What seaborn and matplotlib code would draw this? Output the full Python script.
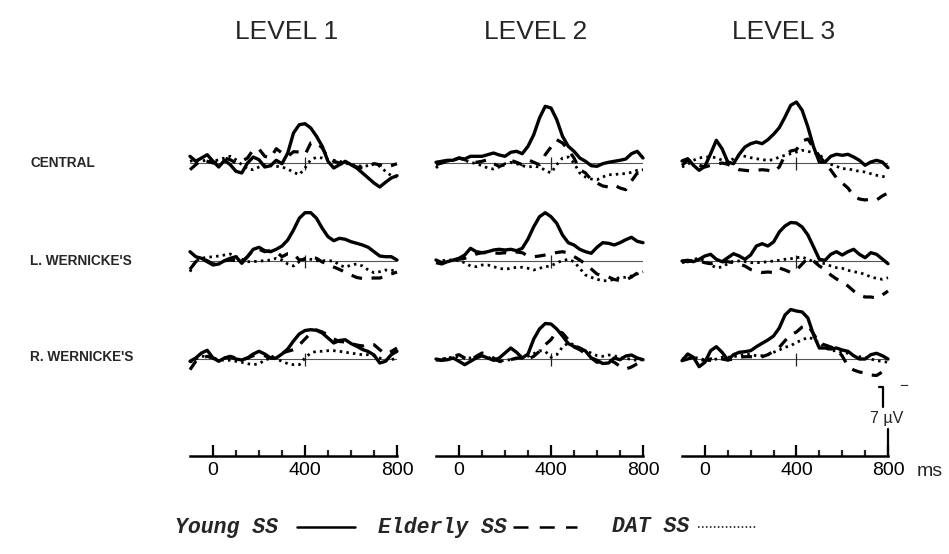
import matplotlib
matplotlib.use("Agg")
import matplotlib.pyplot as plt
import seaborn as sns
import pandas as pd
from matplotlib.lines import Line2D

# ---------------- data ----------------
time_ms = list(range(-100, 801, 25))
levels = ["LEVEL 1", "LEVEL 2", "LEVEL 3"]
sites = ["CENTRAL", "L. WERNICKE'S", "R. WERNICKE'S"]
groups = ["Young SS", "Elderly SS", "DAT SS"]
tick_values = [0, 400, 800]
tick_labels = ["0", "400", "800"]
calibration_uv = 7

# amplitude values (µV, as drawn: deflection upward is positive here)
young_central_1 = [0.67, 0.17, 0.5, 0.83, 0.17, -0.4, 0.27, -0.17, -0.83, -1.0, 0, 0.6, 0.33, -0.4, -0.27, 0.27, -0.07, 1.0, 3.0, 3.83, 3.93, 3.5, 2.67, 1.67, 0.17, -0.5, -0.17, 0.17, -0.17, -0.5, -1.0, -1.5, -2.0, -2.4, -1.93, -1.5, -1.27]
elderly_central_1 = [-0.67, -0.17, 0.33, 0.17, 0, 0.17, 0.5, 0.33, 0, 0.17, 0.5, 1.33, 1.4, 0.67, 0.5, 1.43, 1.0, 0.67, 1.13, 1.1, 0.83, 2.0, 2.07, 1.5, 0.5, 0.17, 0, -0.17, -0.17, -0.4, -0.5, -0.33, -0.07, -0.17, -0.4, -0.27, -0.07]
dat_central_1 = [0.17, 0.33, 0.17, 0.33, 0.17, 0.33, 0.5, 0.67, 0.33, -0.17, -0.6, -0.67, -0.4, -0.17, -0.27, -0.33, -0.4, -0.6, -0.93, -1.17, -0.5, 0.33, 0.57, 0.5, 0.33, 0.27, 0.17, 0, -0.17, -0.27, -0.33, -0.27, -0.07, -0.33, -0.83, -1.27, -1.4]

young_central_2 = [0.07, 0.17, 0.27, 0.27, 0.5, 0.4, 0.67, 0.67, 0.67, 0.83, 1.0, 0.8, 0.67, 1.07, 1.17, 0.93, 1.67, 2.83, 4.5, 5.67, 5.5, 4.33, 2.67, 1.67, 1.17, 0.5, 0.17, -0.27, -0.33, -0.07, 0.07, 0.17, 0.27, 0.4, 0.93, 1.17, 0.5]
elderly_central_2 = [-0.17, 0, 0.17, 0.27, 0.5, 0.33, 0.17, 0.07, 0.17, 0.33, -0.07, -0.33, -0.17, 0.27, 0.07, -0.17, 0.33, 0.07, -0.17, 0.83, 1.6, 2.33, 2.0, 1.33, 0.5, -0.67, -1.0, -1.67, -2.0, -2.3, -2.4, -2.2, -2.5, -2.67, -1.8, -1.0, -1.0]
dat_central_2 = [-0.5, 0.07, 0.17, 0.33, 0.5, 0.27, 0.07, -0.07, -0.27, -0.5, -0.6, -0.4, -0.07, 0.07, -0.07, -0.27, -0.4, -0.33, -0.4, -0.73, -1.0, -0.17, 0.5, 0.6, 0, -1.0, -1.4, -1.6, -1.67, -1.4, -1.17, -1.17, -1.07, -1.07, -0.93, -0.73, -0.67]

young_central_3 = [0.2, 0.43, -0.23, -0.73, -0.33, 0.93, 2.27, 1.43, 0.1, -0.07, 0.87, 1.6, 1.93, 2.1, 1.93, 2.33, 2.87, 3.53, 4.6, 5.77, 6.1, 5.27, 3.6, 1.6, 0.1, 0.1, 0.67, 0.87, 0.77, 0.87, 0.6, 0.27, -0.23, 0.1, 0.27, 0.1, -0.47]
elderly_central_3 = [-0.23, 0.27, 0.1, -0.23, -0.4, -0.23, -0.13, 0, -0.13, -0.4, -0.67, -0.73, -0.8, -0.73, -0.67, -0.73, -0.9, -0.4, 0.77, 1.2, 1.33, 2.2, 2.4, 1.5, 0.7, 0, -0.7, -1.5, -2.0, -2.5, -3.3, -3.6, -3.7, -3.6, -3.7, -3.3, -3.0]
dat_central_3 = [-0.4, -0.13, 0.27, 0.5, 0.6, 0.6, 0.53, 0.27, 0.1, 0.43, 0.77, 0.67, 0.53, 0.43, 0.33, 0.27, 0.33, 0.6, 0.77, 0.93, 1.1, 1.27, 1.17, 1.0, 0.87, 0.27, -0.13, -0.33, -0.57, -0.57, -0.73, -0.83, -0.9, -1.07, -1.23, -1.33, -1.47]

young_lwern_1 = [0.93, 0.43, 0.27, -0.07, -0.4, -0.3, 0.03, 0.27, 0.43, -0.23, 0.43, 1.17, 1.37, 1.03, 0.93, 1.17, 1.5, 2.1, 3.1, 4.27, 4.83, 4.83, 4.27, 3.27, 2.43, 2.03, 2.27, 2.17, 1.93, 1.77, 1.6, 1.37, 0.93, 0.5, 0.43, 0.43, 0.1]
elderly_lwern_1 = [-0.83, -0.07, 0.27, 0.03, -0.3, -0.23, 0.03, 0.1, 0.03, -0.07, 0.43, 1.1, 1.17, 0.93, 1.03, 0.93, 0.43, 0.73, 0.73, 0.1, 0.17, 0.37, 0.27, -0.1, -0.3, -0.6, -0.85, -1.1, -1.4, -1.65, -1.75, -1.75, -1.7, -1.7, -1.55, -1.3, -1.1]
dat_lwern_1 = [-1.07, 0.03, 0.27, 0.37, 0.43, 0.5, 0.6, 0.7, 0.43, 0.17, -0.07, -0.07, 0, 0.03, 0.1, 0.27, 0.1, -0.3, -0.5, -0.07, 0.27, 0.17, 0.03, 0.03, 0.03, 0, -0.4, -0.63, -0.4, -0.3, -0.5, -0.9, -1.17, -1.07, -0.9, -0.97, -0.83]

young_lwern_2 = [0.1, -0.17, -0.07, 0.1, 0.27, 0.6, 1.27, 0.93, 0.83, 0.93, 1.1, 1.17, 1.1, 1.17, 1.03, 1.27, 2.2, 3.43, 4.43, 4.83, 4.43, 3.77, 2.6, 1.83, 1.6, 1.17, 0.93, 0.77, 1.37, 1.83, 1.77, 1.6, 1.83, 2.13, 2.37, 1.97, 1.83]
elderly_lwern_2 = [-0.17, -0.3, -0.07, 0.1, 0.17, 0.27, 0.5, 0.7, 0.83, 0.83, 0.8, 0.77, 0.83, 0.7, 0.9, 0.83, 0.5, 0.43, 0.5, 0.6, 0.7, 0.85, 0.93, 0.8, 0.45, 0.1, -0.3, -0.8, -1.3, -1.5, -1.6, -1.85, -1.95, -1.9, -1.6, -1.2, -0.9]
dat_lwern_2 = [-0.07, 0.03, 0.1, 0.1, 0.03, -0.17, -0.5, -0.57, -0.4, -0.4, -0.57, -0.73, -0.83, -0.73, -0.63, -0.63, -0.73, -0.9, -0.73, -0.57, -0.5, -0.17, 0.03, 0.17, -0.07, -0.73, -1.4, -1.63, -1.83, -1.97, -1.97, -1.83, -1.63, -1.63, -1.5, -1.3, -1.07]

young_lwern_3 = [0, 0.07, -0.07, 0.17, 0.5, 0.67, 0.17, -0.07, 0.33, 0.73, 0.5, 0.17, 0.6, 1.5, 1.73, 1.5, 1.9, 2.9, 3.5, 3.85, 3.8, 3.4, 2.6, 1.4, 0.17, 0.07, 0.67, 0.93, 0.6, 0.93, 1.17, 0.67, 0.33, 0.83, 0.67, 0.2, -0.27]
elderly_lwern_3 = [0, -0.07, 0.07, 0, -0.17, -0.27, -0.17, -0.07, -0.07, -0.17, -0.3, -0.5, -0.85, -1.0, -1.15, -1.1, -1.15, -0.7, -0.9, -1.15, -0.9, -0.3, 0.3, 0, -0.5, -0.85, -1.4, -1.8, -2.1, -2.5, -3.0, -3.4, -3.6, -3.6, -3.7, -3.4, -3.0]
dat_lwern_3 = [-0.17, -0.07, 0.17, 0.27, 0, -0.4, -0.67, -0.6, -0.27, 0, 0, -0.07, -0.17, -0.17, -0.13, -0.07, 0, 0.07, 0.17, 0.23, 0.33, 0.4, 0.17, -0.07, -0.17, -0.27, -0.5, -0.67, -0.73, -0.93, -1.07, -1.17, -1.33, -1.6, -1.73, -1.83, -1.67]

young_rwern_1 = [-0.23, 0.1, 0.6, 0.87, 0.1, -0.23, 0.1, 0.2, 0, -0.1, 0.1, 0.5, 0.77, 0.5, 0.1, 0.1, 0.5, 1.0, 1.8, 2.5, 2.85, 2.93, 2.87, 2.6, 2.1, 1.6, 1.85, 1.93, 1.55, 1.27, 0.95, 0.75, 0.4, -0.4, -0.23, 0.43, 0.77]
elderly_rwern_1 = [-1.07, -0.23, 0.1, 0.27, 0.1, -0.07, 0.1, 0.27, 0.1, -0.07, 0.1, 0.33, 0.43, 0.33, 0.1, 0.43, 0.6, 0.77, 0.93, 1.4, 2.0, 2.6, 2.9, 2.7, 2.4, 2.0, 1.75, 1.7, 1.55, 1.4, 1.3, 1.5, 1.43, 0.93, 0.5, 0.75, 1.1]
dat_rwern_1 = [-0.33, 0, 0.27, 0.27, 0.1, -0.07, -0.13, -0.13, -0.23, -0.33, -0.47, -0.57, -0.47, -0.13, 0.1, 0, -0.23, -0.47, -0.57, -0.57, 0.1, 0.6, 0.77, 0.77, 0.83, 0.83, 0.77, 0.67, 0.6, 0.5, 0.43, 0.43, 0.33, 0.1, -0.13, -0.07, 0.1]

young_rwern_2 = [0, -0.13, -0.07, 0.1, -0.23, -0.57, -0.23, 0.1, 0.33, 0.1, -0.13, 0.1, 0.6, 1.1, 0.67, 0.1, 0.5, 2.0, 3.0, 3.55, 3.5, 3.0, 2.3, 1.55, 1.25, 1.1, 0.8, 0.1, -0.13, -0.45, -0.4, 0.1, -0.07, 0.3, 0.4, 0.1, -0.07]
elderly_rwern_2 = [-0.07, -0.13, 0.1, 0.27, 0.43, 0.1, -0.13, 0.27, 0.6, 0.43, 0.1, -0.23, -0.33, -0.07, 0.1, 0.1, 0, 0.27, 0.77, 1.43, 1.93, 2.77, 2.6, 1.93, 1.2, 0.93, 0.53, 0.1, -0.33, -0.23, -0.07, -0.33, -0.73, -1.0, -0.8, -0.47, -0.13]
dat_rwern_2 = [-0.13, 0, 0.1, 0.2, 0.27, 0.1, 0.1, 0.2, 0.27, 0.2, -0.07, -0.23, -0.13, -0.07, 0.03, 0.1, 0.27, 0.53, 0.83, 0.77, 0.17, 0.43, 1.2, 1.6, 1.43, 1.1, 0.77, 0.6, 0.33, 0.27, 0.4, 0.33, 0.1, 0.1, -0.07, -0.13, -0.07]

young_rwern_3 = [-0.17, 0.5, 0.17, -0.77, -0.33, 0.83, 1.23, 0.67, -0.1, 0.43, 0.67, 0.73, 0.83, 1.23, 1.57, 1.9, 2.3, 3.1, 4.4, 4.95, 4.8, 4.7, 4.1, 2.4, 1.1, 1.1, 1.0, 1.1, 0.9, 0.77, 0.33, 0, 0, 0.43, 0.57, 0.33, 0]
elderly_rwern_3 = [-0.17, 0, 0.17, 0, -0.17, 0, 0.17, 0, -0.1, 0, 0.17, 0.23, 0.23, 0.17, 0.23, 0.43, 0.77, 1.17, 1.83, 2.4, 2.7, 3.2, 3.4, 2.5, 1.6, 1.4, 1.2, 1.0, 0.3, -0.7, -1.1, -1.3, -1.4, -1.6, -1.65, -1.3, -1.0]
dat_rwern_3 = [0, 0.07, 0.17, 0.07, -0.1, -0.17, 0, 0.17, 0.17, 0.23, 0.33, 0.5, 0.43, 0.33, 0.33, 0.43, 0.67, 0.9, 1.17, 1.33, 1.67, 1.9, 2.17, 2.0, 1.57, 1.17, 0.83, 0.83, 0.67, 0.57, 0.33, 0.23, 0.17, 0, -0.17, -0.23, -0.33]

panel_series = {
    (0, 0): (young_central_1, elderly_central_1, dat_central_1),
    (0, 1): (young_central_2, elderly_central_2, dat_central_2),
    (0, 2): (young_central_3, elderly_central_3, dat_central_3),
    (1, 0): (young_lwern_1, elderly_lwern_1, dat_lwern_1),
    (1, 1): (young_lwern_2, elderly_lwern_2, dat_lwern_2),
    (1, 2): (young_lwern_3, elderly_lwern_3, dat_lwern_3),
    (2, 0): (young_rwern_1, elderly_rwern_1, dat_rwern_1),
    (2, 1): (young_rwern_2, elderly_rwern_2, dat_rwern_2),
    (2, 2): (young_rwern_3, elderly_rwern_3, dat_rwern_3),
}

# ---------------- style / layout ----------------
sns.set_style("white")
plt.rcParams["font.family"] = ["Liberation Sans", "DejaVu Sans"]

W, H = 949, 554
fig = plt.figure(figsize=(W / 100, H / 100), dpi=100)

col_px = [(190, 397), (436, 643), (682, 888)]
row_base_px = [163, 261, 359]
PX_PER_UV = 10.0
YLO, YHI = -5.0, 7.0

line_styles = {
    "Young SS": dict(linestyle="-", linewidth=2.4),
    "Elderly SS": dict(linestyle=(0, (3.4, 3.0)), linewidth=2.3),
    "DAT SS": dict(linestyle=(0, (0.9, 1.5)), linewidth=2.0),
}

for r, site in enumerate(sites):
    for c in range(3):
        x0, x1 = col_px[c]
        bottom_px = row_base_px[r] - YLO * PX_PER_UV
        top_px = row_base_px[r] - YHI * PX_PER_UV
        ax = fig.add_axes([x0 / W, 1 - bottom_px / H, (x1 - x0) / W, (bottom_px - top_px) / H])
        ax.set_xlim(-100, 800)
        ax.set_ylim(YLO, YHI)
        ax.axis("off")
        ax.axhline(0, color="#555555", lw=0.8, zorder=1)
        ax.vlines(400, -0.65, 0.65, color="#222222", lw=0.9, zorder=1)
        for g, vals in zip(groups, panel_series[(r, c)]):
            df = pd.DataFrame({"time": time_ms, "uV": vals})
            sns.lineplot(data=df, x="time", y="uV", ax=ax, color="black",
                         errorbar=None, clip_on=False, **line_styles[g])
        ax.axis("off")

# column titles
title_x = [287, 536, 784]
for c, lab in enumerate(levels):
    fig.text(title_x[c] / W, 1 - 32 / H, lab, ha="center", va="center", fontsize=19)

# row labels
row_label_y = [163, 261, 357]
for r, lab in enumerate(sites):
    fig.text(30 / W, 1 - row_label_y[r] / H, lab, ha="left", va="center",
             fontsize=9.8, fontweight="bold")

# time axes
AXIS_Y = 456
for c, (x0, x1) in enumerate(col_px):
    bax = fig.add_axes([x0 / W, 1 - AXIS_Y / H, (x1 - x0) / W, 80 / H])
    bax.patch.set_alpha(0)
    bax.set_xlim(-100, 800)
    bax.set_ylim(0, 8)
    for s in ["left", "right", "top"]:
        bax.spines[s].set_visible(False)
    bax.spines["bottom"].set_linewidth(1.8)
    bax.spines["bottom"].set_color("black")
    bax.set_xticks(tick_values, tick_labels)
    bax.set_xticks([100, 200, 300, 500, 600, 700], minor=True)
    bax.tick_params(axis="x", which="major", direction="in", length=8, width=1.6,
                    labelsize=14, pad=4, bottom=True, colors="black")
    bax.tick_params(axis="x", which="minor", direction="in", length=4, width=1.6, bottom=True)
    bax.set_yticks([])
    if c == 2:
        # calibration bar
        bax.plot([800, 800], [0, 2.7], color="black", lw=1.6, clip_on=False)
        bax.plot([761, 780, 780], [6.9, 6.9, 4.9], color="black", lw=1.6, clip_on=False)
        bax.text(868, 6.95, "\u2212", ha="center", va="center", fontsize=11)
        bax.text(795, 3.8, f"{calibration_uv} \u00b5V", ha="center", va="center", fontsize=11.5)

fig.text(917 / W, 1 - 471 / H, "ms", ha="left", va="center", fontsize=14)

# legend
leg_y = 1 - 527 / H
leg_font = dict(family=["Liberation Mono", "DejaVu Sans Mono"], weight="bold", style="italic", fontsize=15.5)
fig.text(175 / W, leg_y, groups[0], ha="left", va="center", **leg_font)
fig.text(378 / W, leg_y, groups[1], ha="left", va="center", **leg_font)
fig.text(612 / W, leg_y, groups[2], ha="left", va="center", **leg_font)
fig.add_artist(Line2D([297 / W, 355 / W], [leg_y, leg_y], color="black", lw=1.8))
fig.add_artist(Line2D([513 / W, 577 / W], [leg_y, leg_y], color="black", lw=1.8,
                      linestyle=(0, (6.0, 4.5))))
fig.add_artist(Line2D([698 / W, 757 / W], [leg_y, leg_y], color="black", lw=1.1,
                      linestyle=(0, (1.0, 1.6))))

fig.savefig("out.png", dpi=100)
